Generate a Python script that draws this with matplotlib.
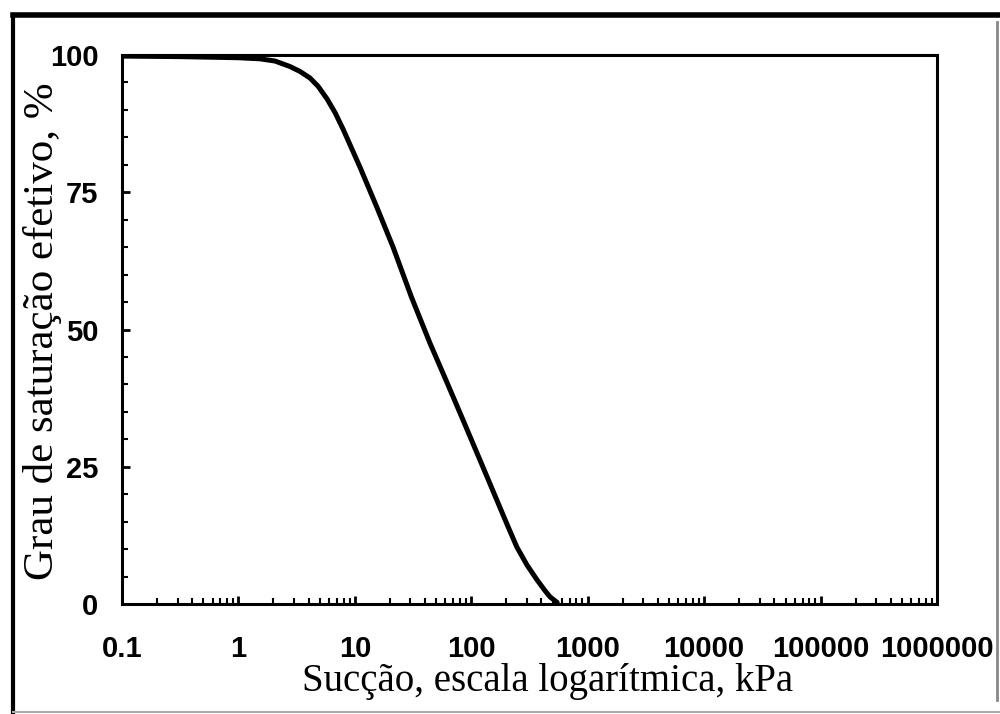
import numpy as np
import matplotlib
matplotlib.use("Agg")
import matplotlib.pyplot as plt
from matplotlib.lines import Line2D
from matplotlib.ticker import FixedLocator, LogLocator, NullFormatter, MultipleLocator

# Valores (sucção em kPa, grau de saturação efetivo em %)
succao_kpa = [0.1, 0.315, 1.0, 1.53, 2.06, 2.77, 3.38, 4.12, 4.83, 5.77, 6.76, 7.92,
              11.1, 15.5, 21.3, 30.5, 44.2, 62.0, 85.0, 120.0, 166.0, 203.0, 246.0,
              301.0, 367.0, 431.0, 475.0, 546.0]
saturacao = [99.8, 99.7, 99.5, 99.3, 98.9, 97.9, 97.0, 95.8, 94.3, 92.0, 89.5, 86.5,
             79.5, 72.2, 65.0, 56.0, 47.5, 40.3, 33.5, 26.0, 18.9, 14.5, 10.4,
             7.1, 4.4, 2.4, 1.3, 0.3]

x_ticks = [0.1, 1, 10, 100, 1000, 10000, 100000, 1000000]
x_tick_labels = ["0.1", "1", "10", "100", "1000", "10000", "100000", "1000000"]
y_ticks = [0, 25, 50, 75, 100]

fig = plt.figure(figsize=(10, 7.14), dpi=100)
ax = fig.add_axes([0.122, 0.154, 0.815, 0.769])

ax.semilogx(succao_kpa, saturacao, color="black", linewidth=3.6,
            solid_capstyle="round", solid_joinstyle="round")

ax.set_xlim(0.1, 1000000)
ax.set_ylim(0, 100)

ax.xaxis.set_major_locator(FixedLocator(x_ticks))
ax.set_xticklabels(x_tick_labels)
ax.xaxis.set_minor_locator(LogLocator(base=10, subs=np.arange(2, 10), numticks=20))
ax.xaxis.set_minor_formatter(NullFormatter())
ax.yaxis.set_major_locator(FixedLocator(y_ticks))
ax.yaxis.set_minor_locator(MultipleLocator(5))

for lab in ax.get_xticklabels() + ax.get_yticklabels():
    lab.set_fontfamily("Liberation Sans")
    lab.set_fontweight("bold")
    lab.set_fontsize(21)

ax.tick_params(which="major", direction="in", length=6, width=2)
ax.tick_params(which="minor", direction="in", length=4, width=1.5)
ax.tick_params(axis="x", which="major", pad=22)
ax.tick_params(axis="y", which="major", pad=17)

for sp in ax.spines.values():
    sp.set_linewidth(2.2)

# Rótulos dos eixos em fonte serifada
fig.text(0.548, 0.045, "Sucção, escala logarítmica, kPa", ha="center", va="center",
         family="Liberation Serif", fontsize=28)
fig.text(0.043, 0.536, "Grau de saturação efetivo, %", ha="center", va="center",
         rotation=90, family="Liberation Serif", fontsize=31)

# Moldura externa da figura
fig.add_artist(Line2D([0.013, 1.0], [1 - 15 / 714, 1 - 15 / 714], color="black",
                      linewidth=4, transform=fig.transFigure))
fig.add_artist(Line2D([0.013, 0.013], [0.0, 1 - 15 / 714], color="black",
                      linewidth=3, transform=fig.transFigure))
fig.add_artist(Line2D([0.997, 0.997], [0.02, 1 - 22 / 714], color="#888888",
                      linewidth=2, transform=fig.transFigure))
fig.add_artist(Line2D([0.013, 1.0], [0.003, 0.003], color="#aaaaaa",
                      linewidth=1.5, transform=fig.transFigure))

fig.savefig("out.png", dpi=100)
